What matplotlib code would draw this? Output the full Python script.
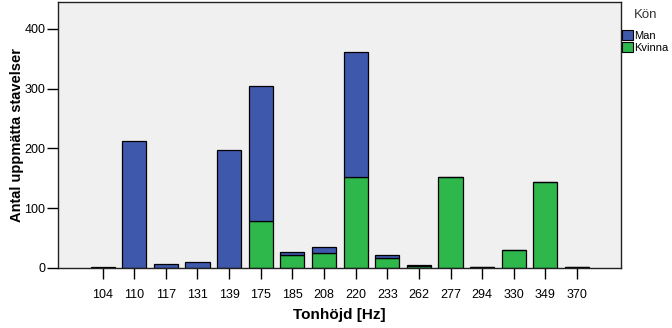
import numpy as np
import matplotlib
matplotlib.use("Agg")
import matplotlib.pyplot as plt
from matplotlib.patches import Patch

plt.rcParams['font.family'] = ['Liberation Sans', 'DejaVu Sans']

# pitch categories (Hz) and syllable counts per gender
tones = ['104', '110', '117', '131', '139', '175', '185', '208',
         '220', '233', '262', '277', '294', '330', '349', '370']
kvinna = [0, 0, 0, 0, 0, 79, 22, 25, 153, 17, 4, 152, 2, 30, 144, 2]
man = [2, 213, 7, 10, 197, 226, 5, 10, 208, 5, 1, 0, 0, 0, 0, 0]

blue = '#3e58ac'
green = '#2eb84c'

fig = plt.figure(figsize=(6.72, 3.28), dpi=100)
ax = fig.add_axes([58 / 672, 60 / 328, 563 / 672, 266 / 328])
ax.set_facecolor('#f0f0f0')

x = np.arange(len(tones))
ax.bar(x, kvinna, width=0.76, color=green, edgecolor='black', linewidth=0.9)
ax.bar(x, man, width=0.76, bottom=kvinna, color=blue, edgecolor='black', linewidth=0.9)

ax.set_xlim(-1.41, 16.39)
ax.set_ylim(0, 445)
ax.set_xticks(x)
ax.set_xticklabels(tones, fontsize=9)
ax.set_yticks([0, 100, 200, 300, 400])
ax.tick_params(axis='y', labelsize=9, length=8, width=1, pad=1)
ax.tick_params(axis='x', length=8, width=1, pad=7)

for s in ax.spines.values():
    s.set_linewidth(1)
    s.set_color('#222222')

ax.set_xlabel('Tonhöjd [Hz]', fontsize=11, fontweight='bold', labelpad=5)
ax.set_ylabel('Antal uppmätta stavelser', fontsize=10.5, fontweight='bold', labelpad=0)

handles = [Patch(facecolor=blue, edgecolor='black', linewidth=0.8),
           Patch(facecolor=green, edgecolor='black', linewidth=0.8)]
fig.legend(handles, ['Man', 'Kvinna'], loc='upper left',
           bbox_to_anchor=(622 / 672, 1 - 30 / 328), frameon=False,
           fontsize=8, handlelength=1.0, handleheight=1.0,
           handletextpad=0.1, labelspacing=0.12, borderpad=0, borderaxespad=0)
fig.text(646 / 672, 1 - 15 / 328, 'Kön', fontsize=9.5, ha='center', va='center',
         color='#333333')

fig.savefig('out.png', dpi=100)
